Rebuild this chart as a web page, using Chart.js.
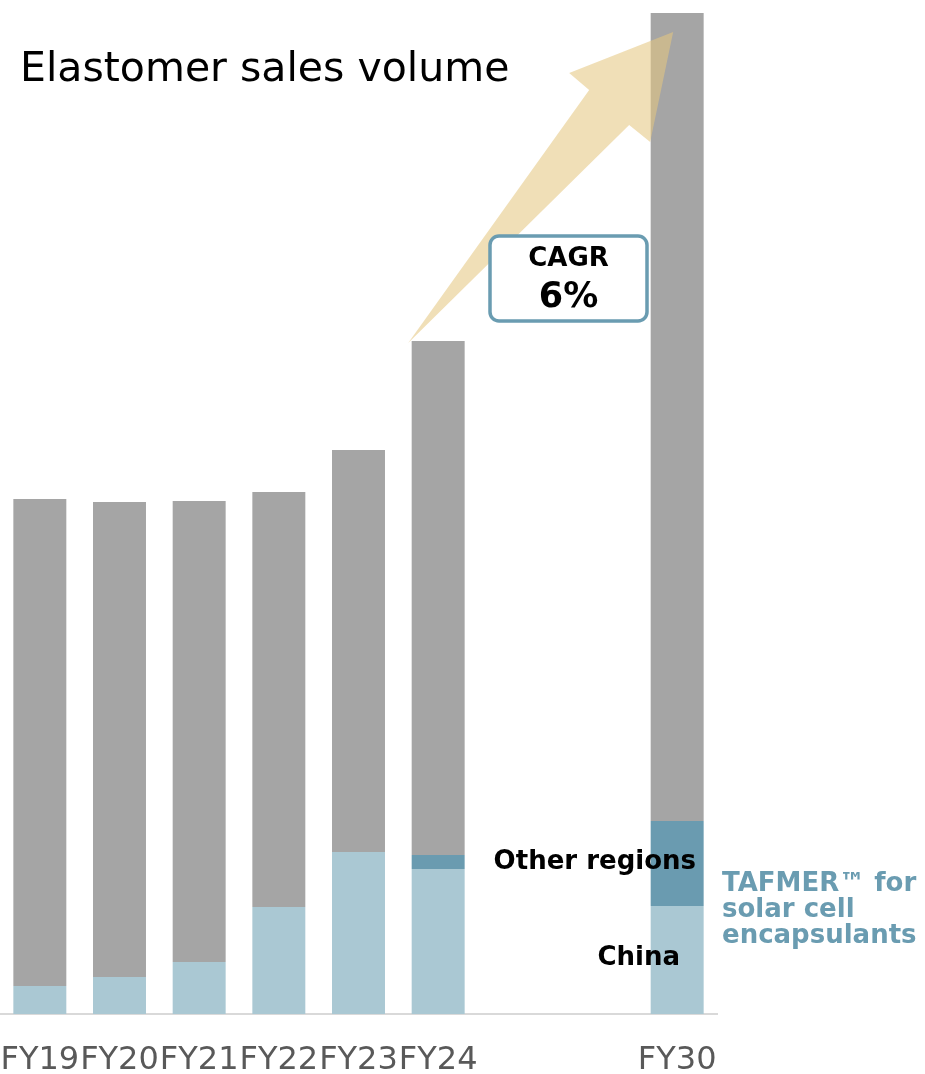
<!DOCTYPE html>
<html>
<head>
<meta charset="utf-8">
<script src="https://cdn.jsdelivr.net/npm/chart.js@4.4.1/dist/chart.umd.min.js"></script>
<style>
  html, body { margin: 0; padding: 0; background: #fff; }
  #wrap { width: 925px; height: 1074px; position: relative; }
</style>
</head>
<body>
<div id="wrap"><canvas id="chart"></canvas></div>
<script>
/* Categories (two empty slots between FY24 and FY30) */
var years = ['FY19', 'FY20', 'FY21', 'FY22', 'FY23', 'FY24', '', '', 'FY30'];

/* Stacked volumes (index units) */
var chinaValues  = [2.8, 3.7, 5.2, 10.7, 16.2, 14.5, null, null, 10.8];
var otherRegions = [0, 0, 0, 0, 0, 1.4, null, null, 8.5];
var restValues   = [48.7, 47.5, 46.1, 41.5, 40.2, 51.4, null, null, 80.8];

var COLOURS = {
  china: '#AAC8D3',
  regions: '#6A9BB0',
  rest: '#A5A5A5',
  axis: '#D9D9D9',
  tick: '#595959',
  note: '#6A9CB1'
};

var FONT = "'DejaVu Sans', Verdana, sans-serif";

function totalAt(i) {
  return (chinaValues[i] || 0) + (otherRegions[i] || 0) + (restValues[i] || 0);
}

/* Title, arrow, CAGR box and side labels */
var decorations = {
  id: 'decorations',
  afterDatasetsDraw: function(chart) {
    var ctx = chart.ctx;
    var x = chart.scales.x, y = chart.scales.y;
    ctx.save();

    // growth arrow from FY24 top to FY30 top
    var tx = x.getPixelForValue(5) - 30, ty = y.getPixelForValue(totalAt(5)) + 2;
    var hx = x.getPixelForValue(8) - 4, hy = y.getPixelForValue(totalAt(8)) + 19;
    ctx.fillStyle = 'rgba(228, 198, 128, 0.57)';
    ctx.beginPath();
    ctx.moveTo(tx, ty);
    ctx.lineTo(hx - 84, hy + 58);
    ctx.lineTo(hx - 104, hy + 41);
    ctx.lineTo(hx, hy);
    ctx.lineTo(hx - 23, hy + 110);
    ctx.lineTo(hx - 44, hy + 93);
    ctx.closePath();
    ctx.fill();

    // CAGR box
    var bx = 490, by = 236, bw = 157, bh = 85, r = 9;
    ctx.beginPath();
    ctx.roundRect(bx, by, bw, bh, r);
    ctx.fillStyle = '#fff';
    ctx.fill();
    ctx.lineWidth = 3.5;
    ctx.strokeStyle = COLOURS.note;
    ctx.stroke();
    ctx.fillStyle = '#000';
    ctx.textAlign = 'center';
    ctx.textBaseline = 'middle';
    ctx.font = 'bold 26px ' + FONT;
    ctx.fillText('CAGR', bx + bw / 2, 259);
    ctx.font = 'bold 35px ' + FONT;
    ctx.fillText('6%', bx + bw / 2, 298);

    // title
    ctx.textAlign = 'left';
    ctx.font = '41px ' + FONT;
    ctx.fillText('Elastomer sales volume', 20, 70);

    // segment labels
    ctx.textAlign = 'right';
    ctx.font = 'bold 26px ' + FONT;
    ctx.fillText('Other regions', 696, 862);
    ctx.fillText('China', 680, 958);

    ctx.textAlign = 'left';
    ctx.fillStyle = COLOURS.note;
    ctx.fillText('TAFMER\u2122 for', 722, 884);
    ctx.fillText('solar cell', 722, 910);
    ctx.fillText('encapsulants', 722, 936);

    ctx.restore();
  }
};

new Chart(document.getElementById('chart').getContext('2d'), {
  type: 'bar',
  data: {
    labels: years,
    datasets: [
      { label: 'China', data: chinaValues, backgroundColor: COLOURS.china },
      { label: 'Other regions', data: otherRegions, backgroundColor: COLOURS.regions },
      { label: 'Other', data: restValues, backgroundColor: COLOURS.rest }
    ]
  },
  options: {
    responsive: true,
    maintainAspectRatio: false,
    animation: false,
    layout: { padding: { top: 13, right: 208, left: 0, bottom: 0 } },
    datasets: { bar: { categoryPercentage: 1, barPercentage: 0.665, borderWidth: 0 } },
    scales: {
      x: {
        stacked: true,
        grid: { display: false, drawTicks: false, tickLength: 0 },
        border: { display: true, color: COLOURS.axis, width: 2 },
        ticks: {
          color: COLOURS.tick,
          autoSkip: false,
          maxRotation: 0,
          minRotation: 0,
          padding: 31,
          font: { family: FONT, size: 32, lineHeight: 1 }
        },
        afterFit: function(scale) {
          scale.height = 60;
          scale.paddingLeft = 0;
          scale.paddingRight = 0;
        }
      },
      y: {
        stacked: true,
        display: false,
        min: 0,
        max: totalAt(8)
      }
    },
    plugins: {
      legend: { display: false },
      tooltip: { enabled: false }
    }
  },
  plugins: [decorations]
});
</script>
</body>
</html>
